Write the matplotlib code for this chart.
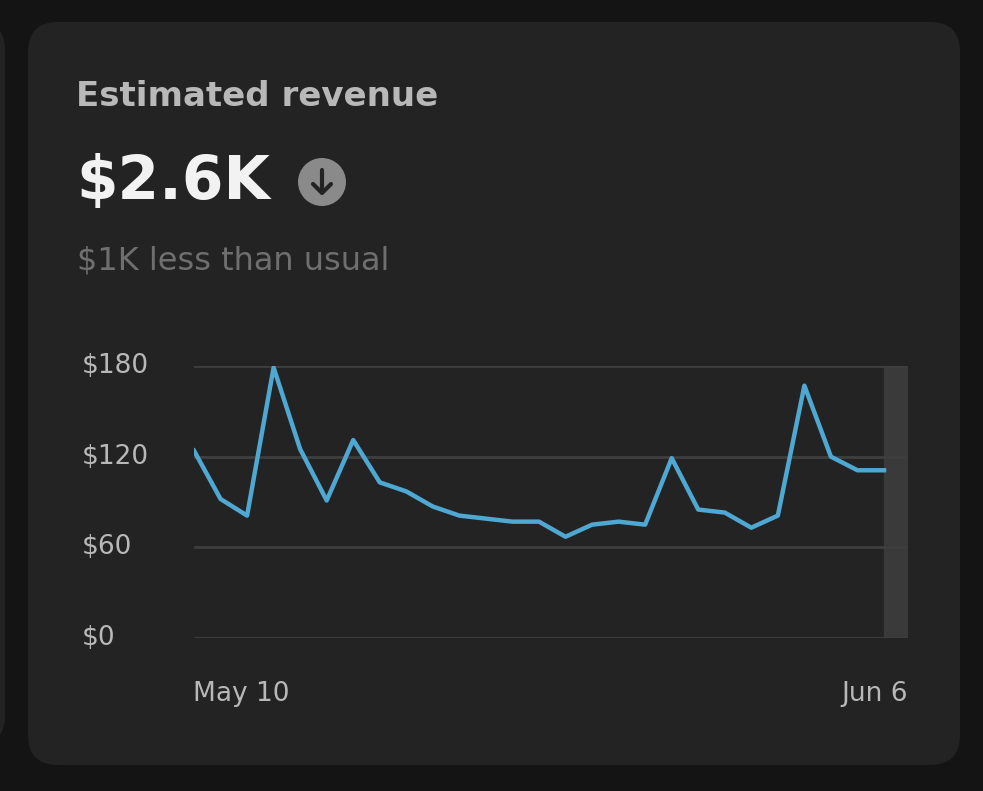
import matplotlib.pyplot as plt
from matplotlib.patches import FancyBboxPatch, Circle

values = [124, 92, 81, 179, 125, 91, 131, 103, 97, 87, 81, 79, 77, 77, 67,
          75, 77, 75, 119, 85, 83, 73, 81, 167, 120, 111, 111]
yticks = [0, 60, 120, 180]
ylabels = ["$0", "$60", "$120", "$180"]

W, H = 983, 791
fig = plt.figure(figsize=(W / 100, H / 100), dpi=100)
fig.patch.set_facecolor("#141414")

bg = fig.add_axes([0, 0, 1, 1])
bg.set_xlim(0, W)
bg.set_ylim(H, 0)
bg.axis("off")
bg.add_patch(FancyBboxPatch((-30, 22), 35, 722, boxstyle="round,pad=0,rounding_size=28",
                            fc="#232323", ec="none"))
bg.add_patch(FancyBboxPatch((28, 22), 932, 743, boxstyle="round,pad=0,rounding_size=30",
                            fc="#232323", ec="none"))
bg.text(76, 97, "Estimated revenue", color="#b8b8b8", fontsize=24.5, fontweight="bold",
        va="center")
bg.text(76, 183, "$2.6K", color="#f2f2f2", fontsize=43, fontweight="bold", va="center")
bg.add_patch(Circle((322, 182), 24, fc="#8a8a8a", ec="none"))
bg.plot([322, 322], [170, 192], color="#232323", lw=3, solid_capstyle="round")
bg.plot([313, 322, 331], [184, 193, 184], color="#232323", lw=3, solid_capstyle="round")
bg.text(77, 261, "$1K less than usual", color="#6f6f6f", fontsize=23, va="center")
bg.text(193, 694, "May 10", color="#b8b8b8", fontsize=19, va="center")
bg.text(908, 694, "Jun 6", color="#b8b8b8", fontsize=19, va="center", ha="right")

# plot area: x 194..908, y 366..638
ax = fig.add_axes([194 / W, 1 - 638 / H, (908 - 194) / W, (638 - 366) / H])
ax.set_facecolor("none")
n = len(values)
step = (884 - 194) / (n - 1)
xmax = (908 - 194) / step
ax.set_xlim(0, xmax)
ax.set_ylim(0, 180)
for t in yticks:
    ax.axhline(t, color="#3e3e3e", lw=2, zorder=1)
ax.axvspan(n - 1, xmax, color="#3a3a3a", zorder=0)
ax.plot(range(n), values, color="#4ea8d2", lw=3.2, zorder=3)
for s in ax.spines.values():
    s.set_visible(False)
ax.set_xticks([])
ax.set_yticks([])
for t, l in zip(yticks, ylabels):
    bg.text(82, 638 - t * (272 / 180), l, color="#b8b8b8", fontsize=19, va="center", ha="left")

fig.savefig("out.png", dpi=100, facecolor=fig.get_facecolor())
